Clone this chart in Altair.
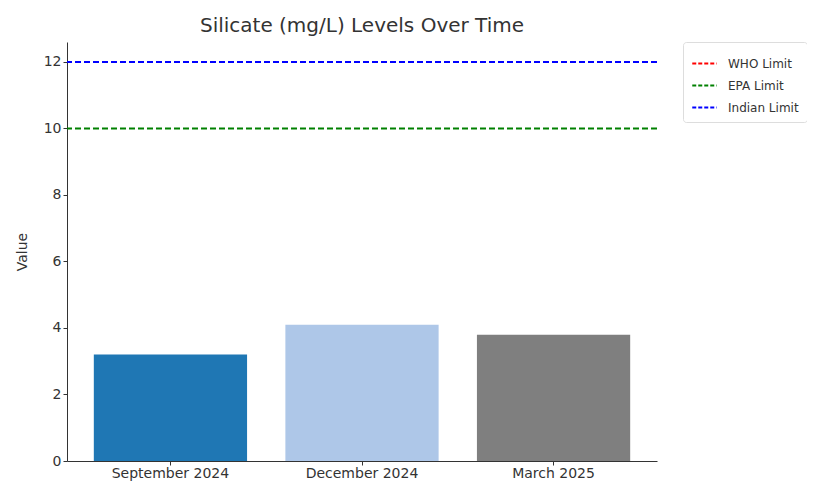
import altair as alt
import pandas as pd

months = ["September 2024", "December 2024", "March 2025"]
values = [3.2, 4.1, 3.8]
bar_colors = ["#1f77b4", "#aec7e8", "#7f7f7f"]

limit_names = ["WHO Limit", "EPA Limit", "Indian Limit"]
limit_values = [12, 10, 12]
limit_colors = ["#ff0000", "#008000", "#0000ff"]

bars_df = pd.DataFrame({"month": months, "value": values})
limits_df = pd.DataFrame({"name": limit_names, "limit": limit_values})

FONT = "DejaVu Sans"
y_scale = alt.Scale(domain=[0, 12.6], nice=False)

bars = alt.Chart(bars_df).mark_bar().encode(
    x=alt.X("month:N", sort=months, title=None,
            scale=alt.Scale(paddingInner=0.2, paddingOuter=0.14),
            axis=alt.Axis(labelAngle=0, labelFontSize=14, labelColor="#333333",
                          tickSize=4, domainColor="#333333", tickColor="#333333",
                          labelPadding=1, labelFont=FONT)),
    y=alt.Y("value:Q", scale=y_scale, title="Value",
            axis=alt.Axis(values=[0, 2, 4, 6, 8, 10, 12], grid=False, labelFontSize=14,
                          labelColor="#333333", titleFontSize=14, titleColor="#333333",
                          titleFontWeight="normal", tickSize=4, domainColor="#333333",
                          tickColor="#333333", titlePadding=14, labelFont=FONT,
                          titleFont=FONT)),
    color=alt.Color("month:N", scale=alt.Scale(domain=months, range=bar_colors), legend=None),
)

rules = alt.Chart(limits_df).mark_rule(strokeDash=[6, 3], strokeWidth=2).encode(
    y=alt.Y("limit:Q", scale=y_scale),
    color=alt.Color("name:N", sort=limit_names,
                    scale=alt.Scale(domain=limit_names, range=limit_colors),
                    legend=alt.Legend(title=None, orient="none", legendX=616, legendY=0,
                                      labelFontSize=12, labelColor="#333333", labelFont=FONT,
                                      symbolType="stroke", symbolStrokeWidth=2,
                                      symbolDash=[4, 2], symbolSize=600, rowPadding=2,
                                      labelOffset=10,
                                      strokeColor="#dddddd", fillColor="white",
                                      padding=8, cornerRadius=3)),
)

chart = alt.layer(bars, rules).resolve_scale(color="independent").properties(
    width=590, height=419,
    title=alt.TitleParams("Silicate (mg/L) Levels Over Time", fontSize=20,
                          fontWeight="normal", color="#333333", font=FONT, offset=6),
    autosize=alt.AutoSizeParams(type="none"),
    padding={"left": 59, "top": 34, "right": 150, "bottom": 20},
).configure_view(stroke=None)

chart.save("out.html", embed_options={"renderer": "svg", "actions": False})
